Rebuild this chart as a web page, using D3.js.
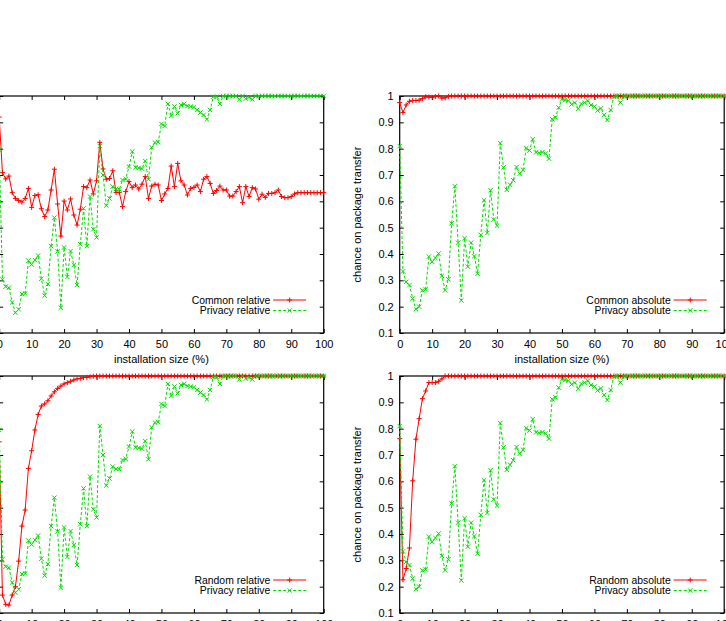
<!DOCTYPE html>
<html>
<head>
<meta charset="utf-8">
<script src="https://cdn.jsdelivr.net/npm/d3@7"></script>
<style>
  body { margin: 0; background: #fff; }
  svg { display: block; font-family: "Liberation Sans", Arial, sans-serif; }
</style>
</head>
<body>
<svg id="chart" width="726" height="621"></svg>
<script>
// installation size (%) on the x axis, one point per percent
const sizes = d3.range(0, 101);
const xTicks = [0, 10, 20, 30, 40, 50, 60, 70, 80, 90, 100];
const yTicks = [0.1, 0.2, 0.3, 0.4, 0.5, 0.6, 0.7, 0.8, 0.9, 1];

const commonRelative = [
  0.92, 0.709, 0.685, 0.696, 0.633, 0.611, 0.603, 0.597, 0.611, 0.649,
  0.577, 0.622, 0.625, 0.572, 0.542, 0.567, 0.643, 0.722, 0.59, 0.468,
  0.601, 0.567, 0.609, 0.548, 0.51, 0.57, 0.656, 0.652, 0.681, 0.628,
  0.678, 0.824, 0.723, 0.684, 0.687, 0.716, 0.634, 0.634, 0.58, 0.637,
  0.675, 0.652, 0.662, 0.647, 0.665, 0.694, 0.611, 0.658, 0.665, 0.662,
  0.603, 0.628, 0.649, 0.734, 0.656, 0.744, 0.678, 0.662, 0.624, 0.649,
  0.653, 0.662, 0.637, 0.684, 0.694, 0.668, 0.63, 0.641, 0.658, 0.643,
  0.643, 0.62, 0.62, 0.637, 0.656, 0.595, 0.656, 0.618, 0.652, 0.647,
  0.608, 0.627, 0.615, 0.63, 0.63, 0.633, 0.643, 0.618, 0.614, 0.614,
  0.618, 0.628, 0.633, 0.633, 0.633, 0.633, 0.633, 0.633, 0.633, 0.633,
  0.633
];

const privacyRelative = [
  0.795, 0.304, 0.276, 0.272, 0.216, 0.177, 0.19, 0.248, 0.25, 0.375,
  0.36, 0.377, 0.394, 0.306, 0.242, 0.286, 0.43, 0.538, 0.41, 0.196,
  0.425, 0.313, 0.411, 0.358, 0.282, 0.437, 0.573, 0.43, 0.618, 0.494,
  0.463, 0.81, 0.7, 0.584, 0.611, 0.656, 0.647, 0.646, 0.681, 0.685,
  0.732, 0.789, 0.729, 0.727, 0.724, 0.753, 0.684, 0.805, 0.823, 0.825,
  0.894, 0.886, 0.97, 0.925, 0.96, 0.934, 0.966, 0.97, 0.962, 0.96,
  0.957, 0.947, 0.937, 0.928, 0.911, 0.947, 0.997, 0.997, 0.97, 1,
  1, 1, 1, 1, 0.987, 1, 0.99, 0.995, 0.987, 1,
  1, 1, 1, 1, 1, 1, 1, 1, 1, 1,
  1, 1, 1, 1, 1, 1, 1, 1, 1, 1,
  1
];

const commonAbsolute = [
  0.975, 0.937, 0.966, 0.98, 0.983, 0.983, 0.984, 0.99, 0.997, 0.996,
  0.995, 0.998, 1, 0.992, 0.993, 0.998, 1, 1, 1, 1,
  1, 1, 1, 1, 1, 1, 1, 1, 1, 1,
  1, 1, 1, 1, 1, 1, 1, 1, 1, 1,
  1, 1, 1, 1, 1, 1, 1, 1, 1, 1,
  1, 1, 1, 1, 1, 1, 1, 1, 1, 1,
  1, 1, 1, 1, 1, 1, 1, 1, 1, 1,
  1, 1, 1, 1, 1, 1, 1, 1, 1, 1,
  1, 1, 1, 1, 1, 1, 1, 1, 1, 1,
  1, 1, 1, 1, 1, 1, 1, 1, 1, 1,
  1
];

const privacyAbsolute = [
  0.81, 0.334, 0.294, 0.282, 0.231, 0.19, 0.2, 0.262, 0.266, 0.39,
  0.37, 0.385, 0.402, 0.317, 0.262, 0.304, 0.516, 0.657, 0.443, 0.224,
  0.46, 0.352, 0.443, 0.392, 0.325, 0.473, 0.604, 0.48, 0.642, 0.531,
  0.508, 0.821, 0.729, 0.644, 0.663, 0.68, 0.73, 0.705, 0.72, 0.802,
  0.793, 0.836, 0.786, 0.783, 0.787, 0.781, 0.762, 0.912, 0.919, 0.956,
  0.987, 0.985, 0.982, 0.968, 0.975, 0.952, 0.97, 0.975, 0.982, 0.966,
  0.96, 0.945, 0.953, 0.928, 0.909, 0.947, 0.997, 1, 0.975, 1,
  1, 1, 1, 1, 1, 1, 1, 1, 1, 1,
  1, 1, 1, 1, 1, 1, 1, 1, 1, 1,
  1, 1, 1, 1, 1, 1, 1, 1, 1, 1,
  1
];

const randomRelative = [
  0.75, 0.168, 0.133, 0.13, 0.168, 0.2, 0.297, 0.43, 0.491, 0.649,
  0.716, 0.795, 0.854, 0.886, 0.894, 0.906, 0.924, 0.94, 0.953, 0.962,
  0.97, 0.975, 0.98, 0.985, 0.989, 0.991, 0.994, 0.995, 0.997, 0.999,
  1, 1, 1, 1, 1, 1, 1, 1, 1, 1,
  1, 1, 1, 1, 1, 1, 1, 1, 1, 1,
  1, 1, 1, 1, 1, 1, 1, 1, 1, 1,
  1, 1, 1, 1, 1, 1, 1, 1, 1, 1,
  1, 1, 1, 1, 1, 1, 1, 1, 1, 1,
  1, 1, 1, 1, 1, 1, 1, 1, 1, 1,
  1, 1, 1, 1, 1, 1, 1, 1, 1, 1,
  1
];

const randomAbsolute = [
  0.762, 0.226, 0.269, 0.347, 0.602, 0.76, 0.838, 0.914, 0.943, 0.975,
  0.975, 0.975, 0.98, 0.989, 1, 1, 1, 1, 1, 1,
  1, 1, 1, 1, 1, 1, 1, 1, 1, 1,
  1, 1, 1, 1, 1, 1, 1, 1, 1, 1,
  1, 1, 1, 1, 1, 1, 1, 1, 1, 1,
  1, 1, 1, 1, 1, 1, 1, 1, 1, 1,
  1, 1, 1, 1, 1, 1, 1, 1, 1, 1,
  1, 1, 1, 1, 1, 1, 1, 1, 1, 1,
  1, 1, 1, 1, 1, 1, 1, 1, 1, 1,
  1, 1, 1, 1, 1, 1, 1, 1, 1, 1,
  1
];

const RED = "#ff0000";
const GREEN = "#00dd00";

const panels = [
  { left: -0.8, top: 96, series: [
    { name: "Common relative", values: commonRelative, color: RED, mark: "plus" },
    { name: "Privacy relative", values: privacyRelative, color: GREEN, mark: "cross" }] },
  { left: 399.7, top: 96, series: [
    { name: "Common absolute", values: commonAbsolute, color: RED, mark: "plus" },
    { name: "Privacy absolute", values: privacyAbsolute, color: GREEN, mark: "cross" }] },
  { left: -0.8, top: 376, series: [
    { name: "Random relative", values: randomRelative, color: RED, mark: "plus" },
    { name: "Privacy relative", values: privacyRelative, color: GREEN, mark: "cross" }] },
  { left: 399.7, top: 376, series: [
    { name: "Random absolute", values: randomAbsolute, color: RED, mark: "plus" },
    { name: "Privacy absolute", values: privacyAbsolute, color: GREEN, mark: "cross" }] }
];

const plotW = 324.5;
const plotH = 237;

const x = d3.scaleLinear().domain([0, 100]).range([0, plotW]);
const y = d3.scaleLinear().domain([0.1, 1]).range([plotH, 0]);

const marks = {
  plus: "M-2.5,0h5M0,-2.5v5",
  cross: "M-2.2,-2.2L2.2,2.2M-2.2,2.2L2.2,-2.2"
};

const svg = d3.select("#chart");
svg.append("rect").attr("width", 726).attr("height", 621).attr("fill", "#fff");

panels.forEach(p => {
  const g = svg.append("g").attr("transform", `translate(${p.left},${p.top})`);

  // axes, ticks pointing inwards like gnuplot, mirrored on top/right
  const styleAxis = sel => {
    sel.select(".domain").remove();
    sel.selectAll("line").attr("stroke", "#000");
    sel.selectAll("text").style("font-size", "11px").attr("fill", "#000");
  };

  g.append("g")
    .attr("transform", `translate(0,${plotH})`)
    .call(d3.axisBottom(x).tickValues(xTicks).tickSize(-4).tickPadding(7).tickFormat(d3.format("d")))
    .call(styleAxis);
  g.append("g")
    .call(d3.axisTop(x).tickValues(xTicks).tickSize(-4).tickFormat(""))
    .call(styleAxis);
  g.append("g")
    .call(d3.axisLeft(y).tickValues(yTicks).tickSize(-4).tickPadding(6).tickFormat(d3.format("~g")))
    .call(styleAxis);
  g.append("g")
    .attr("transform", `translate(${plotW},0)`)
    .call(d3.axisRight(y).tickValues(yTicks).tickSize(-4).tickFormat(""))
    .call(styleAxis);

  g.append("rect")
    .attr("width", plotW)
    .attr("height", plotH)
    .attr("fill", "none")
    .attr("stroke", "#000")
    .attr("stroke-width", 1.2);

  g.append("text")
    .attr("x", plotW / 2)
    .attr("y", plotH + 30)
    .attr("text-anchor", "middle")
    .style("font-size", "11px")
    .text("installation size (%)");

  g.append("text")
    .attr("transform", `translate(-43,${plotH / 2}) rotate(-90)`)
    .attr("text-anchor", "middle")
    .attr("dy", "0.35em")
    .style("font-size", "11px")
    .text("chance on package transfer");

  const line = d3.line().x((d, i) => x(sizes[i])).y(d => y(d));

  p.series.forEach((s, k) => {
    g.append("path")
      .datum(s.values)
      .attr("d", line)
      .attr("fill", "none")
      .attr("stroke", s.color)
      .attr("stroke-width", 1)
      .attr("stroke-dasharray", s.mark === "cross" ? "3,2" : null);

    g.selectAll(null)
      .data(s.values)
      .enter()
      .append("path")
      .attr("transform", (d, i) => `translate(${x(sizes[i])},${y(d)})`)
      .attr("d", marks[s.mark])
      .attr("stroke", s.color)
      .attr("stroke-width", 1)
      .attr("fill", "none");

    // legend
    const ly = 204 + k * 10.5;
    g.append("text")
      .attr("x", 271)
      .attr("y", ly)
      .attr("dy", "0.35em")
      .attr("text-anchor", "end")
      .style("font-size", "10.4px")
      .text(s.name);
    g.append("line")
      .attr("x1", 274).attr("x2", 307)
      .attr("y1", ly).attr("y2", ly)
      .attr("stroke", s.color)
      .attr("stroke-dasharray", s.mark === "cross" ? "3,2" : null);
    g.append("path")
      .attr("transform", `translate(290.5,${ly})`)
      .attr("d", marks[s.mark])
      .attr("stroke", s.color)
      .attr("fill", "none");
  });
});
</script>
</body>
</html>
